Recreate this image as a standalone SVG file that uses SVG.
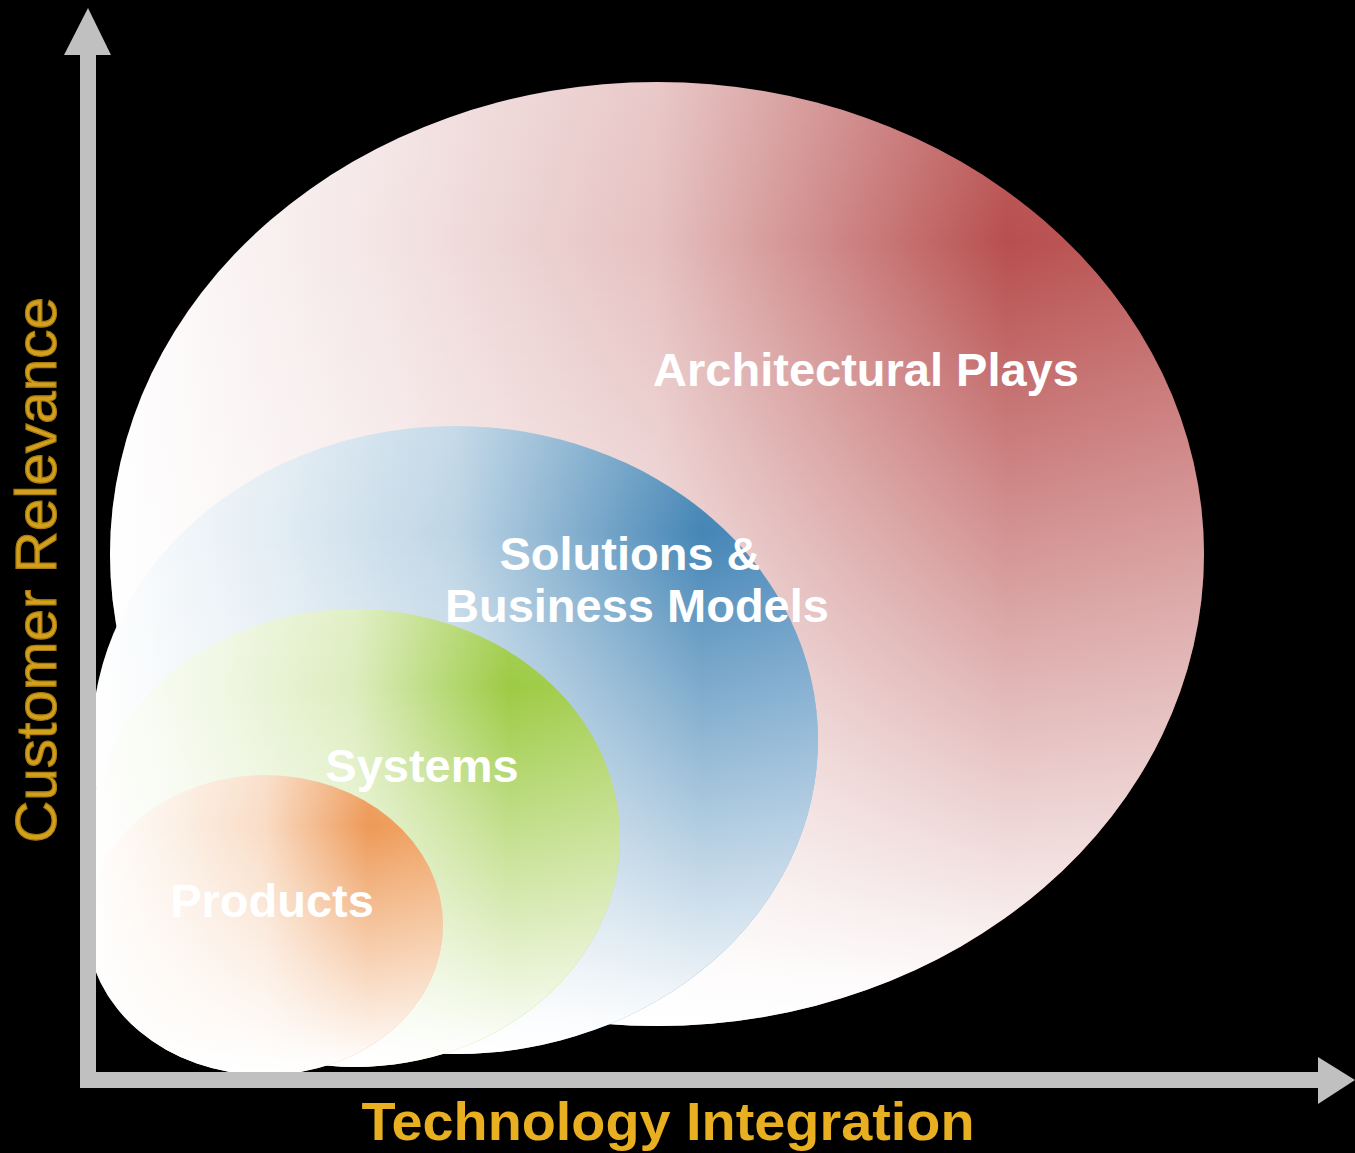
<svg xmlns="http://www.w3.org/2000/svg" width="1355" height="1153" viewBox="0 0 1355 1153">
  <defs>
    <linearGradient id="gRed" x1="0" y1="0" x2="1" y2="0">
      <stop offset="0" stop-color="#ffffff"/>
      <stop offset="0.25" stop-color="#f4e5e5"/>
      <stop offset="0.5" stop-color="#e6c1c1"/>
      <stop offset="0.82" stop-color="#b84f4f"/>
      <stop offset="1" stop-color="#c06060"/>
    </linearGradient>
    <linearGradient id="gBlue" x1="0" y1="0" x2="1" y2="0">
      <stop offset="0" stop-color="#ffffff"/>
      <stop offset="0.25" stop-color="#e3edf4"/>
      <stop offset="0.5" stop-color="#bed5e5"/>
      <stop offset="0.84" stop-color="#4586b6"/>
      <stop offset="1" stop-color="#5590c0"/>
    </linearGradient>
    <linearGradient id="gGreen" x1="0" y1="0" x2="1" y2="0">
      <stop offset="0" stop-color="#ffffff"/>
      <stop offset="0.25" stop-color="#f0f7e3"/>
      <stop offset="0.5" stop-color="#ddedbe"/>
      <stop offset="0.79" stop-color="#9dcb45"/>
      <stop offset="1" stop-color="#a8d058"/>
    </linearGradient>
    <linearGradient id="gOrange" x1="0" y1="0" x2="1" y2="0">
      <stop offset="0" stop-color="#ffffff"/>
      <stop offset="0.25" stop-color="#fcf0e6"/>
      <stop offset="0.5" stop-color="#f9dcc5"/>
      <stop offset="0.79" stop-color="#ee9a58"/>
      <stop offset="1" stop-color="#f0a668"/>
    </linearGradient>
    <linearGradient id="gFade" x1="0" y1="0" x2="0" y2="1">
      <stop offset="0" stop-color="#ffffff" stop-opacity="0.12"/>
      <stop offset="0.17" stop-color="#ffffff" stop-opacity="0"/>
      <stop offset="0.95" stop-color="#ffffff" stop-opacity="0.97"/>
      <stop offset="1" stop-color="#ffffff" stop-opacity="1"/>
    </linearGradient>
    <clipPath id="plotClip">
      <rect x="96" y="0" width="1259" height="1072"/>
    </clipPath>
  </defs>
  <style>
    .lbl { font-family: "Liberation Sans", Arial, sans-serif; font-weight: bold; font-size: 47px; fill: #ffffff; }
    .axisLbl { font-family: "Liberation Sans", Arial, sans-serif; fill: #e8b020; }
    .axis { fill: #c0c0c0; }
    .fade { fill: url(#gFade); }
  </style>
  <rect width="1355" height="1153" fill="#000000"/>

  <g clip-path="url(#plotClip)">
    <g id="architectural-plays">
      <ellipse cx="657" cy="554" rx="547" ry="472" fill="url(#gRed)"/>
      <ellipse class="fade" cx="657" cy="554" rx="547" ry="472"/>
    </g>
    <g id="solutions">
      <ellipse cx="455" cy="740" rx="363" ry="314" fill="url(#gBlue)"/>
      <ellipse class="fade" cx="455" cy="740" rx="363" ry="314"/>
    </g>
    <g id="systems">
      <ellipse cx="355" cy="838" rx="265" ry="229" fill="url(#gGreen)"/>
      <ellipse class="fade" cx="355" cy="838" rx="265" ry="229"/>
    </g>
    <g id="products">
      <ellipse cx="265" cy="925" rx="178" ry="150" fill="url(#gOrange)"/>
      <ellipse class="fade" cx="265" cy="925" rx="178" ry="150"/>
    </g>
  </g>

  <g id="labels">
    <text class="lbl" x="866" y="386" text-anchor="middle">Architectural Plays</text>
    <text class="lbl" x="630" y="570" text-anchor="middle">Solutions &amp;</text>
    <text class="lbl" x="637" y="622" text-anchor="middle">Business Models</text>
    <text class="lbl" x="422" y="782" text-anchor="middle">Systems</text>
    <text class="lbl" x="272" y="917" text-anchor="middle">Products</text>
  </g>

  <g id="axes">
    <rect class="axis" x="80" y="54" width="16" height="1034"/>
    <polygon class="axis" points="64,55 88,8 111,55"/>
    <rect class="axis" x="80" y="1072" width="1239" height="16"/>
    <polygon class="axis" points="1318,1057 1355,1080 1318,1104"/>
  </g>

  <g id="axis-labels">
    <text class="axisLbl" x="668" y="1140" text-anchor="middle" font-size="53" font-weight="bold" textLength="613" lengthAdjust="spacingAndGlyphs">Technology Integration</text>
    <text class="axisLbl" transform="translate(56,570) rotate(-90)" text-anchor="middle" font-size="57" textLength="546" lengthAdjust="spacingAndGlyphs" style="fill:#d2a01c;stroke:#a87c10;stroke-width:1.2">Customer Relevance</text>
  </g>
</svg>
